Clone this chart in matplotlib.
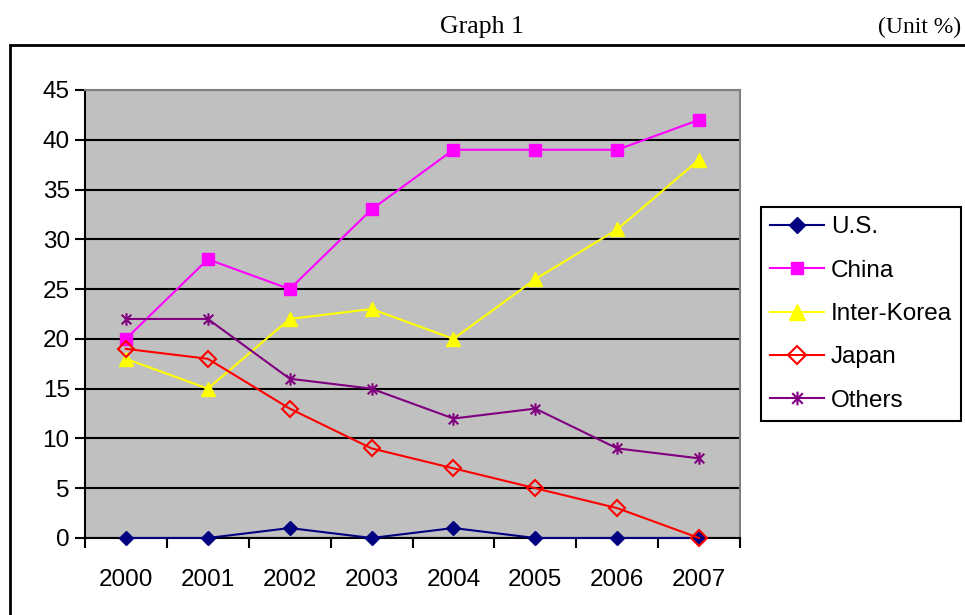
import numpy as np
import matplotlib.pyplot as plt
from matplotlib.path import Path
from matplotlib.patches import Rectangle

years = ["2000", "2001", "2002", "2003", "2004", "2005", "2006", "2007"]
us = [0, 0, 1, 0, 1, 0, 0, 0]
china = [20, 28, 25, 33, 39, 39, 39, 42]
inter_korea = [18, 15, 22, 23, 20, 26, 31, 38]
japan = [19, 18, 13, 9, 7, 5, 3, 0]
others = [22, 22, 16, 15, 12, 13, 9, 8]

plt.rcParams['font.family'] = ['Liberation Sans', 'DejaVu Sans']

# asterisk marker like the spreadsheet one (x plus vertical bar)
star = Path([(-1, -1), (1, 1), (-1, 1), (1, -1), (0, -1.3), (0, 1.3)],
            [Path.MOVETO, Path.LINETO, Path.MOVETO, Path.LINETO, Path.MOVETO, Path.LINETO])

fig = plt.figure(figsize=(9.65, 6.15), dpi=100)
ax = fig.add_axes([85/965, 1 - 538/615, 655/965, 448/615])
ax.set_facecolor('#C0C0C0')

x = np.arange(len(years))
ax.plot(x, us, color='#000080', lw=1.5, marker='D', ms=7.5, label='U.S.', zorder=3, clip_on=False)
ax.plot(x, china, color='#FF00FF', lw=1.5, marker='s', ms=8.5, label='China', zorder=3, clip_on=False)
ax.plot(x, inter_korea, color='#FFFF00', lw=1.5, marker='^', ms=10, label='Inter-Korea', zorder=3,
        clip_on=False)
ax.plot(x, japan, color='#FF0000', lw=1.5, marker='D', ms=8, mfc='none', mew=1.5,
        label='Japan', zorder=4, clip_on=False)
ax.plot(x, others, color='#800080', lw=1.5, marker=star, ms=9, mew=1.5, label='Others', zorder=3,
        clip_on=False)

ax.set_xlim(-0.5, len(years) - 0.5)
ax.set_ylim(0, 45)
ax.set_yticks(np.arange(0, 46, 5))
ax.set_xticks(np.arange(-0.5, len(years), 1))
ax.set_xticklabels([])
ax.set_xticks(x, minor=True)
ax.set_xticklabels(years, minor=True)
ax.tick_params(axis='x', which='minor', length=0, labelsize=17.5, pad=22)
ax.tick_params(axis='x', which='major', direction='out', length=7, width=1.5)
ax.tick_params(axis='y', direction='out', length=7, width=1.5, labelsize=17.5, pad=4)
ax.yaxis.grid(True, color='black', lw=1.5)
ax.set_axisbelow(True)

ax.spines['left'].set_linewidth(1.5)
ax.spines['bottom'].set_linewidth(1.5)
ax.spines['top'].set_color('#808080')
ax.spines['right'].set_color('#808080')
ax.spines['top'].set_linewidth(1.5)
ax.spines['right'].set_linewidth(1.5)

leg = ax.legend(loc='upper left', bbox_to_anchor=(761/965, 1 - 207/615), bbox_transform=fig.transFigure,
                fontsize=17.5, frameon=True, fancybox=False, edgecolor='black', framealpha=1,
                handlelength=2.2, handletextpad=0.3, labelspacing=0.88, borderpad=0.38,
                borderaxespad=0, markerscale=1.1)
leg.get_frame().set_linewidth(1.5)

# outer frame around the chart
fig.patches.append(Rectangle((10/965, -0.1), 1.1, 1 - 45/615 + 0.1, transform=fig.transFigure,
                             fill=False, edgecolor='black', lw=2))

fig.text(482/965, 1 - 27/615, 'Graph 1', family='Liberation Serif', fontsize=18.5,
         ha='center', va='center')
fig.text(961/965, 1 - 27/615, '(Unit %)', family='Liberation Serif', fontsize=17,
         ha='right', va='center')

fig.savefig('out.png', dpi=100)
